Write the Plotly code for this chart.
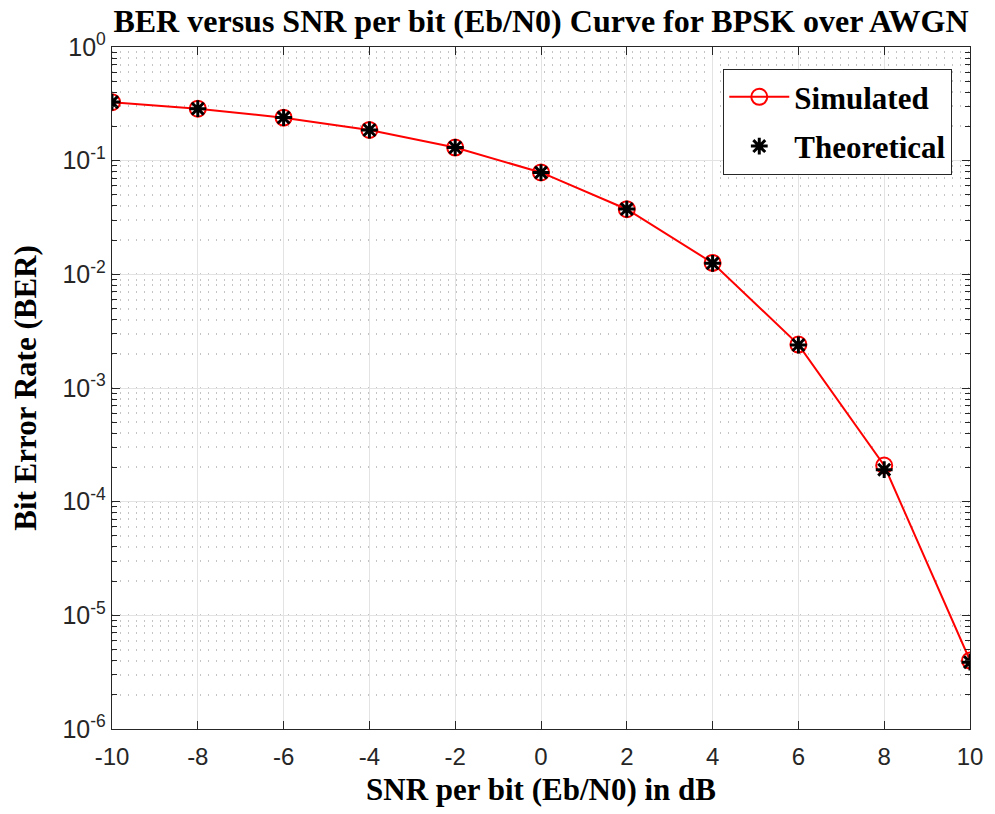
import plotly.graph_objects as go

snr_db = [-10, -8, -6, -4, -2, 0, 2, 4, 6, 8, 10]
ber_sim = [0.3270, 0.2865, 0.2390, 0.1862, 0.1305, 0.0788, 0.0374, 0.0126, 0.00241, 0.000208, 4.0e-6]
ber_theory = [0.3274, 0.2867, 0.2392, 0.1861, 0.1306, 0.0786, 0.0375, 0.0125, 0.00239, 0.000191, 3.87e-6]
y_tickvals = [1e-6, 1e-5, 1e-4, 1e-3, 1e-2, 1e-1, 1]
y_ticktext = ["10<sup>-6</sup>", "10<sup>-5</sup>", "10<sup>-4</sup>", "10<sup>-3</sup>",
              "10<sup>-2</sup>", "10<sup>-1</sup>", "10<sup>0</sup>"]
x_tickvals = [-10, -8, -6, -4, -2, 0, 2, 4, 6, 8, 10]

axis_col = "#262626"
serif = "Liberation Serif, Times New Roman, serif"
sans = "Liberation Sans, Arial, sans-serif"

fig = go.Figure()
fig.add_trace(go.Scatter(
    x=snr_db, y=ber_sim, mode="lines+markers", name="<b>Simulated</b>",
    legendgroup="sim",
    line=dict(color="#ff0000", width=2),
    marker=dict(symbol="circle-open", size=16, color="#ff0000", line=dict(width=2, color="#ff0000")),
))
fig.add_trace(go.Scatter(
    x=snr_db, y=ber_theory, mode="markers", name="<b>Theoretical</b>",
    legendgroup="th",
    marker=dict(symbol="asterisk-open", size=14, color="#000000", line=dict(width=3, color="#000000")),
))

fig.update_layout(
    width=995, height=814,
    margin=dict(l=112, r=19, t=47, b=85),
    paper_bgcolor="white", plot_bgcolor="white",
    title=dict(text="<b>BER versus SNR per bit (Eb/N0) Curve for BPSK over AWGN</b>",
               x=0.5, xref="paper", xanchor="center",
               y=1 - 21 / 814, yref="container", yanchor="middle",
               font=dict(family=serif, size=32, color="#000000")),
    legend=dict(x=0.979, y=0.968, xanchor="right", yanchor="top",
                bgcolor="white", bordercolor=axis_col, borderwidth=1.3,
                font=dict(family=serif, size=31, color="#000000"),
                itemwidth=60, traceorder="grouped", tracegroupgap=6),
    showlegend=True,
    annotations=[dict(text="<b>SNR per bit (Eb/N0) in dB</b>", xref="paper", yref="paper",
                      x=0.5, y=-0.088, xanchor="center", yanchor="middle", showarrow=False,
                      font=dict(family=serif, size=31, color="#000000"))],
)

fig.update_xaxes(
    range=[-10, 10], tickvals=x_tickvals, ticktext=[str(v) for v in x_tickvals],
    showline=True, linecolor=axis_col, linewidth=1.3, mirror="ticks",
    ticks="inside", ticklen=8, tickcolor=axis_col, tickwidth=1.3,
    ticklabelstandoff=6,
    showgrid=True, gridcolor="#e3e3e3", gridwidth=1, zeroline=False,
    tickfont=dict(family=sans, size=24, color=axis_col),
)
fig.update_yaxes(
    type="log", range=[-6, 0], tickvals=y_tickvals, ticktext=y_ticktext,
    showline=True, linecolor=axis_col, linewidth=1.3, mirror="ticks",
    ticks="inside", ticklen=8, tickcolor=axis_col, tickwidth=1.3,
    showgrid=True, gridcolor="#e3e3e3", gridwidth=1, zeroline=False,
    tickfont=dict(family=sans, size=25, color=axis_col),
    minor=dict(dtick="D1", showgrid=True, gridcolor="#c4c4c4", griddash="1px,7px",
               gridwidth=1.5, ticks="inside", ticklen=5, tickcolor=axis_col),
    title=dict(text="<b>Bit Error Rate (BER)</b>", standoff=16,
               font=dict(family=serif, size=31, color="#000000")),
)

fig.write_html("out.html")
